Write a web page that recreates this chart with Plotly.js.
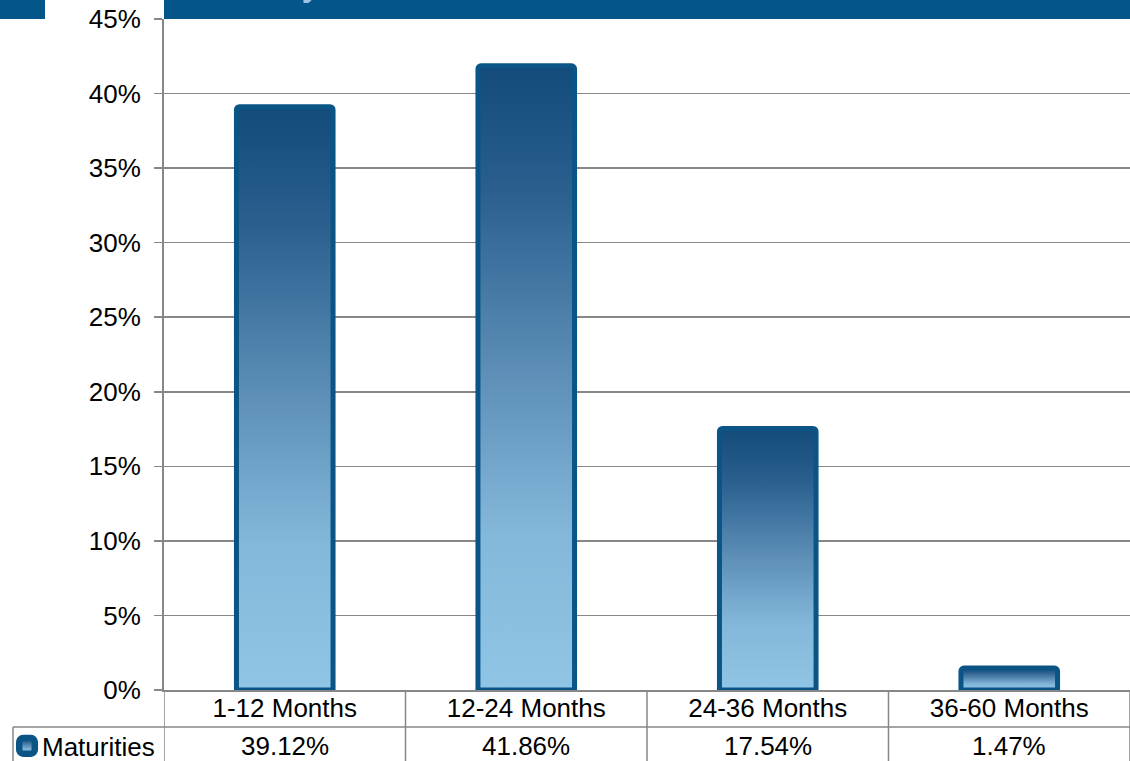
<!DOCTYPE html>
<html>
<head>
<meta charset="utf-8">
<script src="https://cdn.plot.ly/plotly-3.0.1.min.js"></script>
<style>
html,body{margin:0;padding:0;background:#fff;}
#chart{width:1130px;height:761px;}
</style>
</head>
<body>
<div id="chart"></div>
<script>
// ---- data ----
const categories = ["1-12 Months", "12-24 Months", "24-36 Months", "36-60 Months"];
const maturities = [39.12, 41.86, 17.54, 1.47];
const seriesName = "Maturities";
const titleText = "Maturity Distribution";
const yTickVals = [0, 5, 10, 15, 20, 25, 30, 35, 40, 45];
const yTickText = ["0%", "5%", "10%", "15%", "20%", "25%", "30%", "35%", "40%", "45%"];

const W = 1130, H = 761;
const mL = 164, mR = 0, mT = 19, mB = 71;
const plotW = W - mL - mR, plotH = H - mT - mB;
const px2x = p => (p - mL) / plotW;          // page x pixel -> paper x
const py2y = p => (H - mB - p) / plotH;      // page y pixel -> paper y

const gridCol = "#878787";
const darkBlue = "#03558a";
const font = "Liberation Sans, Arial, sans-serif";
const fs = 26;

const trace = {
  type: "bar",
  x: categories,
  y: maturities,
  name: seriesName,
  width: 0.4,
  showlegend: true,
  marker: {
    color: "#5f91b9",
    cornerradius: 3,
    line: {color: "#0a5586", width: 5}
  },
  hoverinfo: "none"
};

const rowLineY = py2y(727);
const valueRowY = py2y(746);
const bottomY = py2y(761);

const shapes = [
  // header bar
  {type: "rect", xref: "paper", yref: "paper", x0: 0, x1: 1, y0: 1, y1: 1.2,
   fillcolor: darkBlue, line: {width: 0}, layer: "above"},
  // small left block
  {type: "rect", xref: "paper", yref: "paper", x0: px2x(0), x1: px2x(45), y0: 1, y1: 1.2,
   fillcolor: darkBlue, line: {width: 0}, layer: "above"},
  // table horizontal line between rows
  {type: "line", xref: "paper", yref: "paper", x0: px2x(13), x1: 1, y0: rowLineY, y1: rowLineY,
   line: {color: gridCol, width: 1.5}},
  // legend cell left border
  {type: "line", xref: "paper", yref: "paper", x0: px2x(13), x1: px2x(13), y0: rowLineY, y1: bottomY - 0.05,
   line: {color: gridCol, width: 1.5}}
];
// vertical separators in table
for (let i = 0; i <= categories.length; i++) {
  shapes.push({type: "line", xref: "x", yref: "paper", x0: i - 0.5, x1: i - 0.5, y0: 0, y1: bottomY - 0.05,
    line: {color: gridCol, width: 1.5}});
}

const annotations = categories.map((c, i) => ({
  x: c, xref: "x", y: valueRowY, yref: "paper", yanchor: "middle",
  text: maturities[i].toFixed(2) + "%", showarrow: false,
  font: {family: font, size: fs, color: "#000"}
}));
annotations.push({
  x: px2x(193), xref: "paper", xanchor: "left",
  y: 1 + 14 / plotH, yref: "paper", yanchor: "bottom",
  text: "<b>" + titleText + "</b>", showarrow: false,
  font: {family: font, size: 32, color: "#9dc3e6"}
});

const layout = {
  width: W, height: H,
  margin: {l: mL, r: mR, t: mT, b: mB, pad: 0, autoexpand: false},
  paper_bgcolor: "#fff", plot_bgcolor: "#fff",
  font: {family: font, size: fs, color: "#000"},
  xaxis: {
    type: "category",
    range: [-0.5, categories.length - 0.5],
    showgrid: false, zeroline: false,
    showline: true, linecolor: gridCol, linewidth: 2,
    ticks: "", tickfont: {family: font, size: fs, color: "#000"},
    ticklabelstandoff: -6, fixedrange: true, automargin: false
  },
  yaxis: {
    range: [0, 45],
    tickvals: yTickVals, ticktext: yTickText,
    showgrid: true, gridcolor: gridCol, gridwidth: 1.5,
    zeroline: false,
    showline: true, linecolor: gridCol, linewidth: 2,
    ticks: "outside", ticklen: 8, tickcolor: gridCol, tickwidth: 1.5,
    tickfont: {family: font, size: fs, color: "#000"},
    ticklabelstandoff: 8, fixedrange: true, automargin: false
  },
  showlegend: true,
  legend: {
    x: px2x(2), xanchor: "left", y: valueRowY, yanchor: "middle",
    bgcolor: "rgba(0,0,0,0)", font: {family: font, size: fs, color: "#000"},
    itemclick: false, itemdoubleclick: false
  },
  shapes: shapes,
  annotations: annotations
};

function applyGradient(gd) {
  const svg = gd.querySelector(".main-svg");
  if (!svg) return;
  let defs = svg.querySelector("defs");
  if (!defs) { defs = document.createElementNS("http://www.w3.org/2000/svg", "defs"); svg.insertBefore(defs, svg.firstChild); }
  if (!svg.querySelector("#barGrad")) {
    const g = document.createElementNS("http://www.w3.org/2000/svg", "linearGradient");
    g.setAttribute("id", "barGrad");
    g.setAttribute("x1", "0"); g.setAttribute("y1", "0");
    g.setAttribute("x2", "0"); g.setAttribute("y2", "1");
    [["0", "#134b7b"], ["0.2", "#2a5f8e"], ["0.5", "#5e90b8"], ["0.75", "#84b8da"], ["1", "#91c5e5"]].forEach(s => {
      const st = document.createElementNS("http://www.w3.org/2000/svg", "stop");
      st.setAttribute("offset", s[0]); st.setAttribute("stop-color", s[1]);
      g.appendChild(st);
    });
    defs.appendChild(g);
  }
  gd.querySelectorAll(".barlayer .point path").forEach(p => {
    p.style.fill = "url(#barGrad)";
  });
  gd.querySelectorAll(".legend .legendpoints path").forEach(p => {
    p.style.fill = "url(#barGrad)";
    if (p.dataset.origT === undefined) p.dataset.origT = p.getAttribute("transform") || "";
    p.setAttribute("transform", p.dataset.origT + " translate(5,0) scale(1.3)");
  });
}

const gd = document.getElementById("chart");
Plotly.newPlot(gd, [trace], layout, {staticPlot: true, displayModeBar: false}).then(() => {
  applyGradient(gd);
  gd.on("plotly_afterplot", () => applyGradient(gd));
});
</script>
</body>
</html>
